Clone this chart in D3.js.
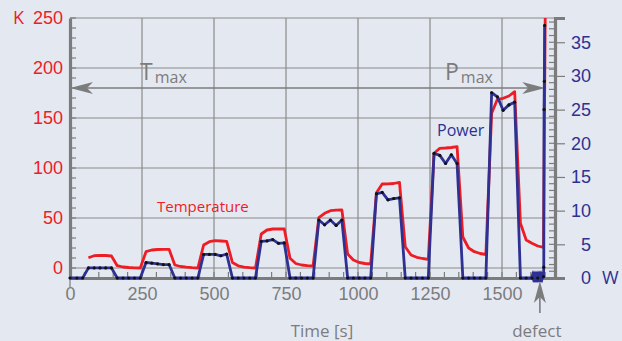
<!DOCTYPE html>
<html>
<head>
<meta charset="utf-8">
<script src="https://cdn.jsdelivr.net/npm/d3@7"></script>
<style>
  html, body { margin: 0; padding: 0; background: #e4e8f1; }
  svg { display: block; font-family: "Open Sans", "Noto Sans", sans-serif; }
</style>
</head>
<body>
<svg id="chart" width="622" height="341"></svg>
<script>
// Sample times (s) of the logged step sequence
const sampleTime = [
  0, 24, 44,
  64, 84, 104, 124, 144, 164, 184, 204, 224, 244,
  264, 284, 304, 324, 344, 364, 384, 404, 424, 444,
  464, 484, 504, 524, 544, 564, 584, 604, 624, 644,
  664, 684, 704, 724, 744, 764, 784, 804, 824, 844,
  864, 884, 904, 924, 944, 964, 984, 1004, 1024, 1044,
  1064, 1084, 1104, 1124, 1144, 1164, 1184, 1204, 1224, 1244,
  1264, 1284, 1304, 1324, 1344, 1364, 1384, 1404, 1424, 1444,
  1464, 1484, 1504, 1524, 1544, 1564, 1584, 1604, 1624, 1644,
  1645, 1646, 1647, 1648
];
// Electrical power (W)
const powerW = [
  0, 0, 0,
  1.5, 1.5, 1.5, 1.5, 1.5, 0, 0, 0, 0, 0,
  2.3, 2.2, 2.1, 2.0, 2.0, 0, 0, 0, 0, 0,
  3.5, 3.5, 3.5, 3.3, 3.55, 0, 0, 0, 0, 0,
  5.45, 5.5, 5.7, 5.15, 5.2, 0, 0, 0, 0, 0,
  8.6, 7.9, 8.6, 7.8, 8.6, 0, 0, 0, 0, 0,
  12.5, 12.7, 11.6, 11.8, 11.9, 0, 0, 0, 0, 0,
  18.5, 18.2, 17.0, 18.3, 17.0, 0, 0, 0, 0, 0,
  27.5, 26.9, 24.9, 25.7, 26.1, 0, 0, 0, 0, 0.2,
  1.6, 25.0, 29.2, 37.5
];
// Fast logging just before the failure (no markers)
const burstTime = [1604, 1606, 1608, 1610, 1612, 1614, 1616, 1618, 1620, 1622, 1624,
                   1626, 1628, 1630, 1632, 1634, 1636, 1638, 1640, 1642, 1644];
const burstPower = [0.05, 0.35, 0.05, 0.35, 0.05, 0.35, 0.05, 0.35, 0.05, 0.35, 0.05,
                    0.35, 0.05, 0.35, 0.05, 0.35, 0.05, 0.35, 0.05, 0.35, 0.2];

// Temperature rise (K)
const tempTime = [
  64, 84, 104, 124, 144, 164, 184, 204, 224, 244,
  264, 284, 304, 324, 344, 364, 384, 404, 424, 444,
  464, 484, 504, 524, 544, 564, 584, 604, 624, 644,
  664, 684, 704, 724, 744, 764, 784, 804, 824, 844,
  864, 884, 904, 924, 944, 964, 984, 1004, 1024, 1044,
  1064, 1084, 1104, 1124, 1144, 1164, 1184, 1204, 1224, 1244,
  1264, 1284, 1304, 1324, 1344, 1364, 1384, 1404, 1424, 1444,
  1464, 1484, 1504, 1524, 1544, 1564, 1584, 1604, 1624, 1644,
  1650
];
const tempK = [
  10.3, 12.3, 12.7, 12.5, 12.0, 2.3, 1.0, 0.5, 0.2, 0.0,
  16.3, 18.0, 18.5, 18.7, 18.7, 3.0, 1.5, 0.8, 0.3, 0.0,
  23.0, 26.3, 27.3, 27.0, 26.7, 5.5, 2.2, 0.8, 0.3, 0.0,
  34.0, 38.0, 39.0, 39.2, 39.0, 9.7, 4.5, 3.0, 2.3, 2.0,
  50.3, 54.7, 57.3, 57.8, 58.0, 14.0, 8.0, 5.5, 4.5, 4.0,
  75.3, 84.0, 84.2, 84.5, 85.7, 21.3, 13.0, 10.7, 9.5, 8.7,
  114.7, 119.7, 120.0, 120.5, 121.3, 31.0, 20.0, 16.3, 14.5, 13.5,
  154.7, 168.7, 169.7, 172.0, 176.3, 44.7, 28.0, 24.7, 22.0, 20.7,
  250
];

// Axis ticks
const timeTicks = [0, 250, 500, 750, 1000, 1250, 1500];
const tempTicks = [0, 50, 100, 150, 200, 250];
const powerTicks = [0, 5, 10, 15, 20, 25, 30, 35];
const tmaxLevel = 180;      // K, limit arrow
const arrowEndTime = 1650;  // s
const defectTime = 1628;    // s

const RED = "#ee1c25", NAVY = "#2e3192", GREY = "#7c7c7c";

const svg = d3.select("#chart");
const x = d3.scaleLinear().domain([0, 1684]).range([70, 555]);
const yT = d3.scaleLinear().domain([-10, 250]).range([278, 18]);
const yP = d3.scaleLinear().domain([0, 38.6]).range([278, 18]);

// grid
const grid = svg.append("g").attr("stroke", "#8a8a8a").attr("stroke-width", 1.2);
grid.selectAll(".h").data(tempTicks).join("line")
  .attr("x1", x.range()[0]).attr("x2", x.range()[1])
  .attr("y1", d => yT(d)).attr("y2", d => yT(d));
grid.selectAll(".v").data(timeTicks.filter(d => d > 0)).join("line")
  .attr("x1", d => x(d)).attr("x2", d => x(d))
  .attr("y1", yT.range()[1]).attr("y2", yT.range()[0]);

// minor ticks
const minor = svg.append("g").attr("stroke", GREY).attr("stroke-width", 1.2);
minor.selectAll(".mt").data(d3.range(-10, 251, 10)).join("line")
  .attr("x1", x.range()[0]).attr("x2", x.range()[0] + 6)
  .attr("y1", d => yT(d)).attr("y2", d => yT(d));
minor.selectAll(".mp").data(d3.range(0, 39, 1)).join("line")
  .attr("x1", x.range()[1] - 6).attr("x2", x.range()[1])
  .attr("y1", d => yP(d)).attr("y2", d => yP(d));
minor.selectAll(".mx").data(d3.range(50, 1684, 50)).join("line")
  .attr("x1", d => x(d)).attr("x2", d => x(d))
  .attr("y1", yT.range()[0] - 6).attr("y2", yT.range()[0]);

// axes (lines + labels)
const axL = svg.append("g").attr("transform", `translate(${x.range()[0]},0)`)
  .call(d3.axisLeft(yT).tickValues(tempTicks).tickSize(0).tickPadding(7));
axL.select(".domain").attr("stroke", GREY).attr("stroke-width", 3.2);
axL.selectAll("text").attr("fill", RED).attr("font-size", 18);

const axR = svg.append("g").attr("transform", `translate(${x.range()[1]},0)`)
  .call(d3.axisRight(yP).tickValues(powerTicks).tickSize(10).tickPadding(6));
axR.select(".domain").attr("stroke", GREY).attr("stroke-width", 3.2);
axR.selectAll(".tick line").attr("stroke", GREY).attr("stroke-width", 1.2);
axR.selectAll("text").attr("fill", NAVY).attr("font-size", 18)
  .attr("text-anchor", "end").attr("x", 36);

const axB = svg.append("g").attr("transform", `translate(0,${yT.range()[0]})`)
  .call(d3.axisBottom(x).tickValues(timeTicks).tickFormat(d3.format("d"))
    .tickSize(0).tickPadding(9));
axB.select(".domain").attr("stroke", GREY).attr("stroke-width", 3.2);
axB.selectAll("text").attr("fill", GREY).attr("font-size", 18);
svg.append("line").attr("stroke", GREY).attr("stroke-width", 1.2)
  .attr("x1", x(0)).attr("x2", x(0)).attr("y1", yT.range()[0]).attr("y2", yT.range()[0] + 9);

// unit labels
svg.append("text").attr("x", 13).attr("y", yT(250)).attr("dy", "0.35em")
  .attr("fill", RED).attr("font-size", 18).text("K");
svg.append("text").attr("x", 602).attr("y", yP(0)).attr("dy", "0.35em")
  .attr("fill", NAVY).attr("font-size", 18).text("W");
svg.append("text").attr("x", 322).attr("y", 337).attr("text-anchor", "middle")
  .attr("fill", GREY).attr("font-size", 17).text("Time [s]");

// Tmax / Pmax limit arrow
const ay = yT(tmaxLevel);
const xl = x(0), xr = x(arrowEndTime);
svg.append("line").attr("x1", xl + 10).attr("x2", xr - 10).attr("y1", ay).attr("y2", ay)
  .attr("stroke", GREY).attr("stroke-width", 1.6);
const head = (tip, dir) => `M${tip},${ay} L${tip + dir * 23},${ay - 6} L${tip + dir * 17},${ay} L${tip + dir * 23},${ay + 6} Z`;
svg.append("path").attr("d", head(xl, 1)).attr("fill", GREY);
svg.append("path").attr("d", head(xr, -1)).attr("fill", GREY);

function limitLabel(xp, main) {
  const t = svg.append("text").attr("x", xp).attr("y", 80).attr("fill", GREY);
  t.append("tspan").attr("font-size", 23).text(main);
  t.append("tspan").attr("font-size", 16).attr("dx", 2).attr("dy", 3).text("max");
}
limitLabel(140, "T");
limitLabel(445, "P");

// series
const tempLine = d3.line().x((d, i) => x(tempTime[i])).y(d => yT(d));
svg.append("path").datum(tempK).attr("d", tempLine)
  .attr("fill", "none").attr("stroke", RED).attr("stroke-width", 2.8)
  .attr("stroke-linejoin", "round");

const burstLine = d3.line().x((d, i) => x(burstTime[i])).y(d => yP(d));
svg.append("path").datum(burstPower).attr("d", burstLine)
  .attr("fill", "none").attr("stroke", NAVY).attr("stroke-width", 3);

const powerLine = d3.line().x((d, i) => x(sampleTime[i])).y(d => yP(d));
svg.append("path").datum(powerW).attr("d", powerLine)
  .attr("fill", "none").attr("stroke", NAVY).attr("stroke-width", 2.8)
  .attr("stroke-linejoin", "round");
svg.append("g").selectAll("circle").data(powerW).join("circle")
  .attr("cx", (d, i) => x(sampleTime[i])).attr("cy", d => yP(d))
  .attr("r", 1.6).attr("fill", "#111");

// series labels
svg.append("text").attr("x", 157).attr("y", 212).attr("fill", RED)
  .attr("font-size", 15).text("Temperature");
svg.append("text").attr("x", 437).attr("y", 136).attr("fill", NAVY)
  .attr("font-size", 16).text("Power");

// defect marker
const dx = x(defectTime) + 1;
svg.append("line").attr("x1", dx).attr("x2", dx).attr("y1", 294).attr("y2", 313)
  .attr("stroke", GREY).attr("stroke-width", 1.6);
svg.append("path")
  .attr("d", `M${dx},281 L${dx - 6},303 L${dx},297 L${dx + 6},303 Z`).attr("fill", GREY);
svg.append("text").attr("x", dx - 3).attr("y", 337).attr("text-anchor", "middle")
  .attr("fill", GREY).attr("font-size", 17).text("defect");
</script>
</body>
</html>
